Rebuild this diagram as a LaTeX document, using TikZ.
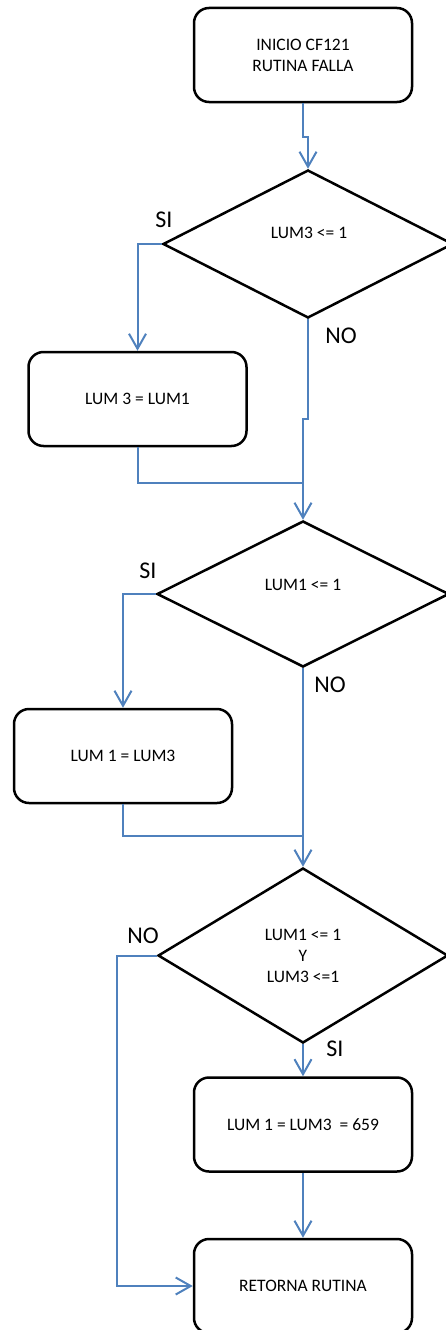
\documentclass[tikz,border=0pt]{standalone}
\usepackage{fontspec}
\setmainfont{Carlito}
\usetikzlibrary{shapes.geometric,arrows.meta}
\definecolor{flowblue}{HTML}{4F81BD}
\begin{document}
\begin{tikzpicture}[x=1pt,y=-1pt,
  box/.style={draw=black, line width=2.5pt, rounded corners=15pt,
    minimum width=218pt, minimum height=94pt, inner sep=0pt, align=center,
    font=\fontsize{17.5}{21}\selectfont},
  decision/.style={draw=black, line width=2.5pt, diamond, inner sep=0pt},
  cond/.style={align=center, inner sep=0pt, font=\fontsize{17.5}{21}\selectfont},
  answer/.style={inner sep=0pt, font=\fontsize{24}{28}\selectfont},
  link/.style={draw=flowblue, line width=2pt},
  flow/.style={link, -{Straight Barb[length=15pt,width=17pt,line width=2pt]}}
]
\useasboundingbox (0,0) rectangle (446,1330);
\clip (0,0) rectangle (446,1330);

% process boxes
\node[box] (b1) at (303,55)    {INICIO CF121\\RUTINA FALLA};
\node[box] (b2) at (137.5,399) {LUM 3 = LUM1};
\node[box] (b3) at (123,756)   {LUM 1 = LUM3};
\node[box] (b4) at (303,1124.5){LUM 1 = LUM3\ \ = 659};
\node[box] (b5) at (303,1286)  {RETORNA RUTINA};

% decisions
\node[decision, minimum width=290pt, minimum height=148pt] (d1) at (308,244) {};
\node[cond] (d1t) at (309,233) {LUM3 <= 1};
\node[decision, minimum width=292pt, minimum height=146pt] (d2) at (303,594) {};
\node[cond] (d2t) at (303,585) {LUM1 <= 1};
\node[decision, minimum width=290pt, minimum height=175pt] (d3) at (303,955.5) {};
\node[cond] (d3t) at (303,956) {LUM1 <= 1\\Y\\LUM3 <=1};

% branch answers
\node[answer] (s1) at (164,220) {SI};
\node[answer] (n1) at (341,336) {NO};
\node[answer] (s2) at (148,571) {SI};
\node[answer] (n2) at (330,685) {NO};
\node[answer] (n3) at (143,936) {NO};
\node[answer] (s3) at (335,1049) {SI};

% merge points
\coordinate (j1) at (303,483);
\coordinate (j2) at (303,836);

% connectors
\draw[flow] (b1.south) -- (303,137) -| (d1.north);
\draw[flow] (d1.west) -| (b2.north);
\draw[flow] (d1.south) -- (308,419) -| (d2.north);
\draw[link] (b2.south) |- (j1);
\draw[flow] (d2.west) -| (b3.north);
\draw[flow] (d2.south) -- (d3.north);
\draw[link] (b3.south) |- (j2);
\draw[flow] (d3.west) -- ++(-40,0) |- (b5.west);
\draw[flow] (d3.south) -- (b4.north);
\draw[flow] (b4.south) -- (b5.north);
\end{tikzpicture}
\end{document}
